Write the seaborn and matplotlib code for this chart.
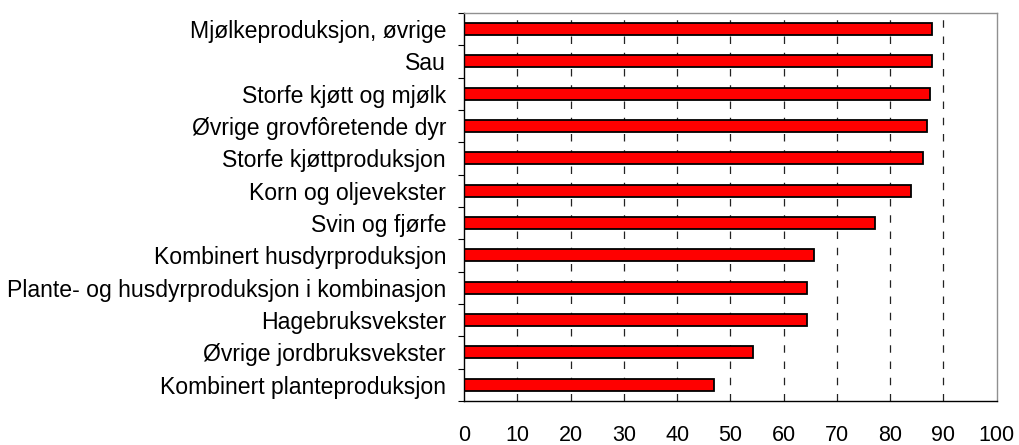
import pandas as pd
import matplotlib.pyplot as plt
import seaborn as sns
from matplotlib.ticker import FixedLocator

# Data (lest av fra figuren)
kategorier = [
    "Mjølkeproduksjon, øvrige",
    "Sau",
    "Storfe kjøtt og mjølk",
    "Øvrige grovfôretende dyr",
    "Storfe kjøttproduksjon",
    "Korn og oljevekster",
    "Svin og fjørfe",
    "Kombinert husdyrproduksjon",
    "Plante- og husdyrproduksjon i kombinasjon",
    "Hagebruksvekster",
    "Øvrige jordbruksvekster",
    "Kombinert planteproduksjon",
]
verdier = [87.9, 87.9, 87.5, 86.9, 86.2, 83.9, 77.2, 65.7, 64.4, 64.4, 54.2, 47.0]
x_ticks = [0, 10, 20, 30, 40, 50, 60, 70, 80, 90, 100]

df = pd.DataFrame({"Kategori": kategorier, "Verdi": verdier})

sns.set_style("white")
plt.rcParams['font.family'] = ['Liberation Sans', 'DejaVu Sans']
plt.rcParams['text.color'] = 'black'
plt.rcParams['xtick.color'] = 'black'
plt.rcParams['ytick.color'] = 'black'

fig = plt.figure(figsize=(10.2, 4.45), dpi=100)
ax = fig.add_axes([0.455, 0.099, 0.522, 0.872])

sns.barplot(data=df, x="Verdi", y="Kategori", orient="h", color="#ff0000",
            edgecolor="black", linewidth=1.3, width=0.37, saturation=1, ax=ax)

ax.set_xlim(0, 100)
ax.set_ylim(len(kategorier) - 0.5, -0.5)
ax.set_xticks(x_ticks)
ax.set_xticklabels([str(t) for t in x_ticks])
ax.set_xlabel("")
ax.set_ylabel("")

# stiplete rutenett
for t in x_ticks[1:-1]:
    ax.axvline(t, color="#222222", linestyle=(0, (6, 7)), linewidth=0.9, zorder=0)

# akser
ax.spines["left"].set_color("black")
ax.spines["bottom"].set_color("black")
ax.spines["top"].set_color("#909090")
ax.spines["right"].set_color("#909090")
for s in ax.spines.values():
    s.set_linewidth(1.0)

ax.tick_params(axis="x", direction="inout", length=8, width=0.8, labelsize=15.5, pad=13,
               colors="black", labelcolor="black")
ax.tick_params(axis="y", which="major", length=0, labelsize=16.6, pad=13, labelcolor="black")
ax.yaxis.set_minor_locator(FixedLocator([i - 0.5 for i in range(len(kategorier) + 1)]))
ax.tick_params(axis="y", which="minor", direction="out", length=4, width=0.8, left=True)

plt.savefig("out.png", dpi=100)
